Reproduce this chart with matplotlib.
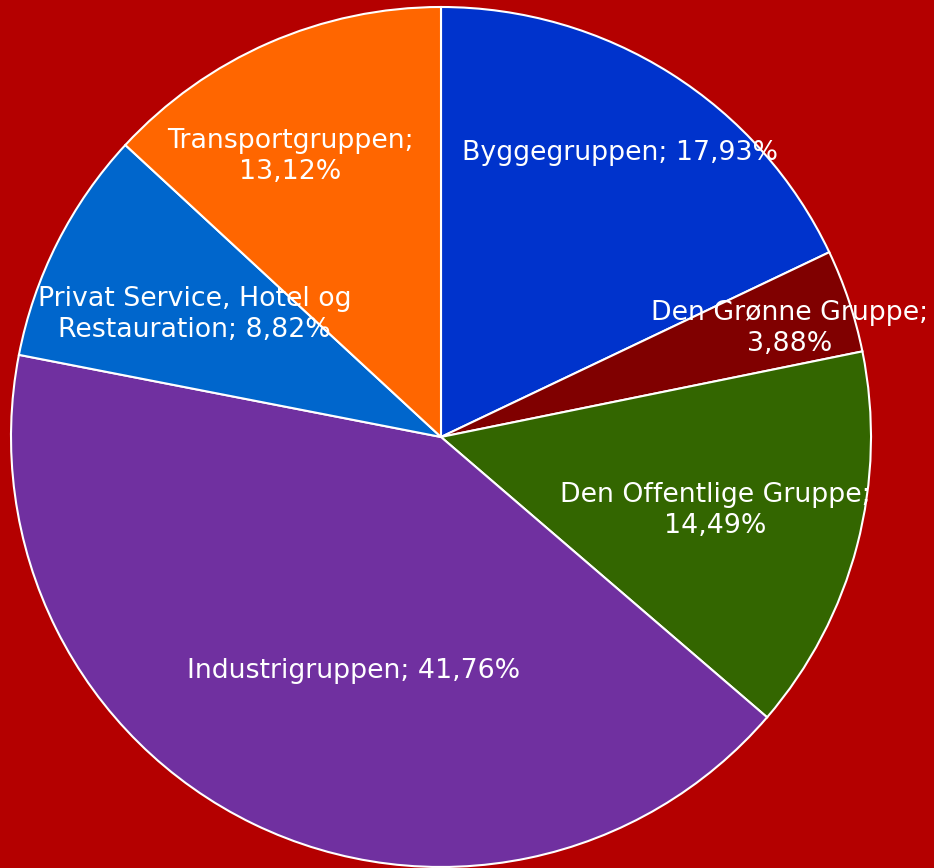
import numpy as np
import matplotlib
matplotlib.use("Agg")
import matplotlib.pyplot as plt

categories = ["Byggegruppen", "Den Grønne Gruppe", "Den Offentlige Gruppe",
              "Industrigruppen", "Privat Service, Hotel og Restauration", "Transportgruppen"]
values = [17.93, 3.88, 14.49, 41.76, 8.82, 13.12]
label_texts = ["Byggegruppen; 17,93%", "Den Grønne Gruppe;\n3,88%", "Den Offentlige Gruppe;\n14,49%",
               "Industrigruppen; 41,76%", "Privat Service, Hotel og\nRestauration; 8,82%",
               "Transportgruppen;\n13,12%"]
colors = ["#0033CC", "#800000", "#336600", "#7030A0", "#0066CC", "#FF6600"]

# layout: label radial distance and angular offset (deg)
label_dist = [0.78, 0.85, 0.66, 0.58, 0.64, 0.74]
label_ang_off = [0.0, -1.2, -0.4, 5.3, 0.4, 4.7]

bg = "#B40000"
fig = plt.figure(figsize=(9.34, 8.68), dpi=100, facecolor=bg)
ax = fig.add_axes([11/934, 1/868, 860/934, 860/868])
ax.set_facecolor(bg)
wedges, _ = ax.pie(values, colors=colors, startangle=90, counterclock=False,
                   wedgeprops=dict(edgecolor="white", linewidth=1.5))
for w, txt, d, off in zip(wedges, label_texts, label_dist, label_ang_off):
    th = np.deg2rad((w.theta1 + w.theta2) / 2 + off)
    ax.text(d * np.cos(th), d * np.sin(th), txt, ha="center", va="center",
            color="white", fontsize=19.3, family="DejaVu Sans", linespacing=1.26)
ax.set_xlim(-1, 1)
ax.set_ylim(-1, 1)
ax.set_aspect("equal")
ax.axis("off")
fig.savefig("out.png", dpi=100, facecolor=bg)
